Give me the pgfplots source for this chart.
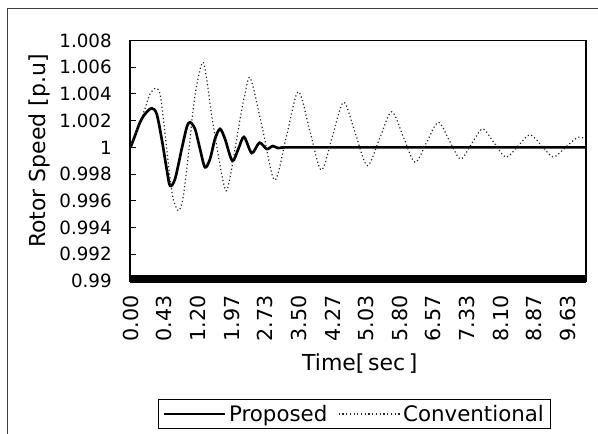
\documentclass[border=0pt]{standalone}
\usepackage{pgfplots}
\pgfplotsset{compat=1.18}
\usepackage{fontspec}
\setmainfont{DejaVu Sans}
\begin{document}
\begin{tikzpicture}
\useasboundingbox (0,0) rectangle (448.5pt,325.5pt);
\draw[line width=0.6pt, black!75] (5.25pt,0pt) -- (5.25pt,319.5pt) -- (448.5pt,319.5pt);
\begin{axis}[
  at={(97.5pt,114.75pt)}, anchor=south west,
  scale only axis, width=342pt, height=180.375pt,
  xmin=-0.015, xmax=13.532, ymin=0.99, ymax=1.008,
  xtick={0,1,2,3,4,5,6,7,8,9,10,11,12,13},
  xticklabels={0.00,0.43,1.20,1.97,2.73,3.50,4.27,5.03,5.80,6.57,7.33,8.10,8.87,9.63},
  ytick={0.99,0.992,0.994,0.996,0.998,1,1.002,1.004,1.006,1.008},
  yticklabels={0.99,0.992,0.994,0.996,0.998,1,1.002,1.004,1.006,1.008},
  tick align=inside, ytick pos=left,
  major tick length=4.5pt,
  x tick style={draw=none},
  y tick style={line width=0.8pt, black},
  axis line style={line width=1pt},
  /pgf/number format/assume math mode=true,
  tick label style={font=\fontsize{13.7}{16}\selectfont},
  xticklabel style={rotate=90, anchor=east, inner sep=0pt, font=\fontsize{15.5}{18}\selectfont},
  xticklabel shift=10.5pt,
  yticklabel style={anchor=east, inner sep=0pt},
  yticklabel shift=13.5pt,
  xlabel={Time[\,sec\,]}, ylabel={Rotor Speed [p.u]},
  label style={font=\fontsize{16.5}{19}\selectfont},
  xlabel style={at={(axis description cs:0.504,-0.345)}, anchor=center},
  ylabel style={at={(axis description cs:-0.1996,0.5405)}, anchor=center},
  legend style={at={(axis description cs:0.4923,-0.553)}, anchor=center,
    draw=black, line width=0.8pt, font=\fontsize{16}{19}\selectfont,
    inner xsep=3pt, inner ysep=2pt,
    /tikz/every even column/.append style={column sep=6pt}},
  legend columns=2,
  legend image code/.code={\draw[#1] (0pt,0pt) -- (46pt,0pt);},
]
\addplot[black, line width=2pt, smooth, tension=0.5] coordinates {
(0,1.0000) (0.134,1.00088) (0.282,1.00188) (0.431,1.0025) (0.630,1.00293)
(0.778,1.0025) (0.927,1.00063) (1.075,0.99838) (1.174,0.99713) (1.322,0.99763)
(1.521,0.99988) (1.670,1.0015) (1.768,1.00188) (1.916,1.00138) (2.065,0.99988)
(2.213,0.99851) (2.362,0.99913) (2.510,1.00063) (2.659,1.00138) (2.807,1.00063)
(3.024,0.99900) (3.203,0.99988) (3.372,1.00078) (3.601,0.99958) (3.832,1.00035)
(4.046,0.99988) (4.225,1.00010) (4.382,0.99995) (4.590,1.00000) (5.5,1.00000)
(13.532,1.00000)
};
\addplot[black!85, line width=0.9pt, dash pattern=on 0.9pt off 1.9pt, smooth, tension=0.5] coordinates {
(0,1.0000) (0.134,1.0010) (0.282,1.0019) (0.431,1.0029) (0.579,1.0040)
(0.758,1.00444) (0.877,1.0040) (0.974,1.0022) (1.075,0.9999) (1.174,0.9977)
(1.272,0.9961) (1.426,0.99526) (1.560,0.9962) (1.717,0.9994) (1.916,1.0039)
(2.139,1.00637) (2.264,1.0051) (2.412,1.0024) (2.608,0.9994) (2.757,0.9974)
(2.858,0.99676) (3.006,0.9984) (3.253,1.0021) (3.402,1.0040) (3.565,1.00517)
(3.925,1.00136) (4.284,0.99755) (4.635,1.00086) (4.985,1.00417) (5.327,1.00124)
(5.668,0.99830) (6.001,1.00084) (6.334,1.00338) (6.684,1.00100) (7.035,0.99863)
(7.398,1.00065) (7.760,1.00267) (8.106,1.00078) (8.452,0.99888) (8.798,1.00038)
(9.144,1.00188) (9.474,1.00050) (9.804,0.99913) (10.131,1.00026) (10.458,1.00138)
(10.807,1.00032) (11.156,0.99926) (11.512,1.00010) (11.869,1.00095) (12.215,1.00012)
(12.561,0.99928) (12.928,1.00002) (13.295,1.00076) (13.532,1.0006)
};
\legend{Proposed, Conventional}
\end{axis}
\fill[black] (97.5pt,112.875pt) rectangle (439.5pt,119.25pt);
\end{tikzpicture}
\end{document}
